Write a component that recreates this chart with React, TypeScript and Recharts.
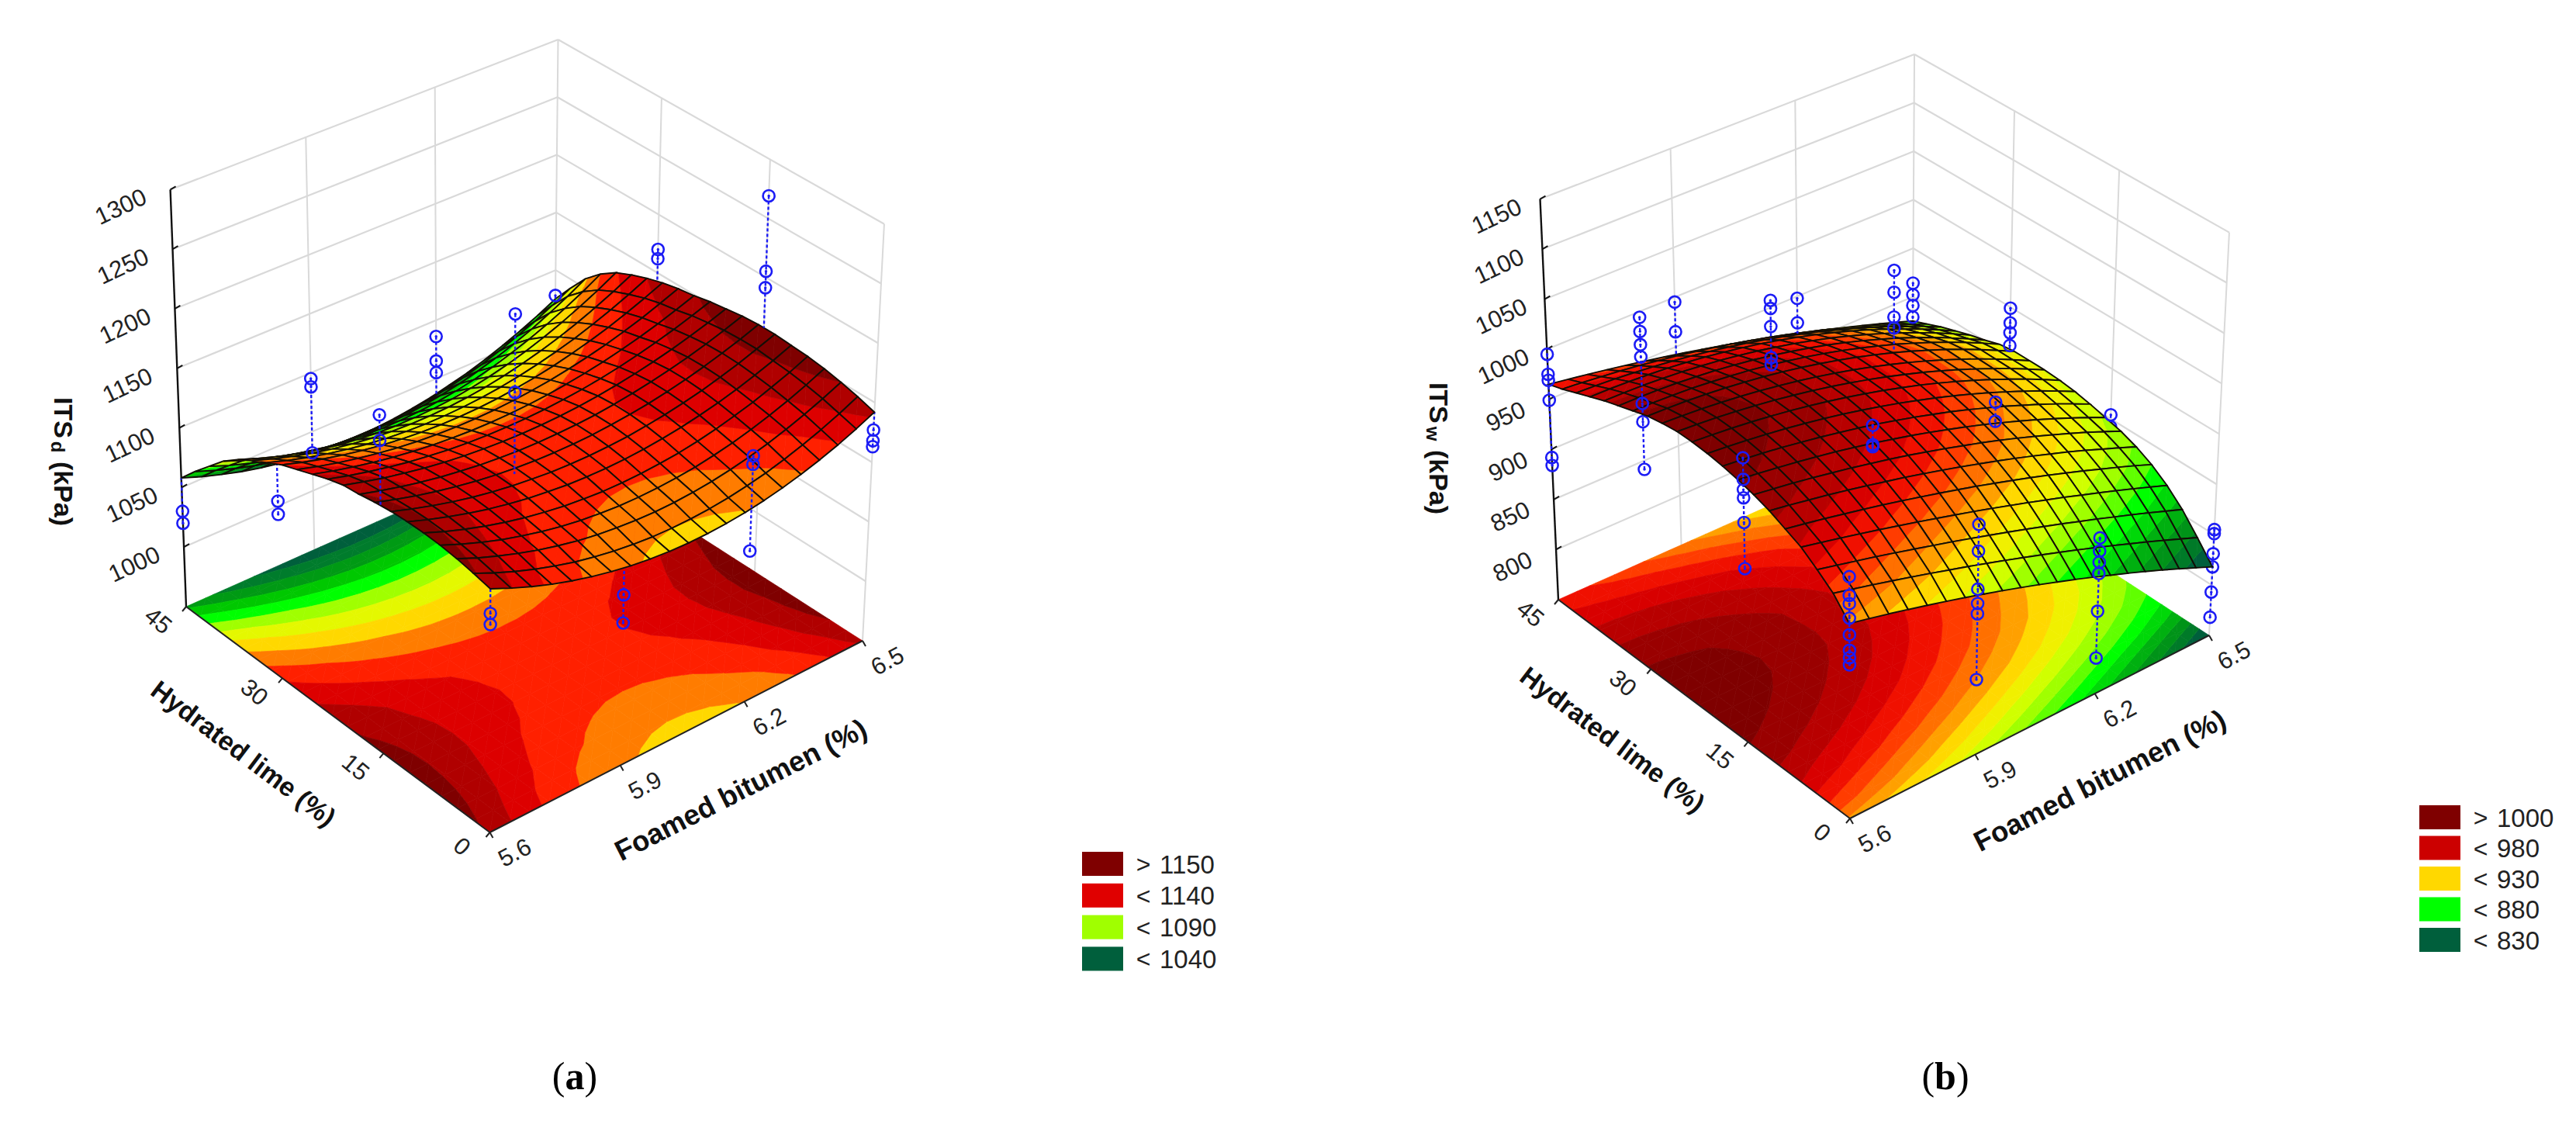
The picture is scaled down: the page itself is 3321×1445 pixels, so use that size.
import React from "react";
import { ScatterChart, Scatter, XAxis, YAxis } from "recharts";

const FOAM_TICKS = [5.6, 5.9, 6.2, 6.5];
const LIME_TICKS = [0, 15, 30, 45];
const ITS_D_TICKS = [1000, 1050, 1100, 1150, 1200, 1250, 1300];
const ITS_W_TICKS = [800, 850, 900, 950, 1000, 1050, 1100, 1150];

// rows: hydrated lime 0..45, columns: foamed bitumen 5.6..6.5
const ITS_D_SURFACE = [
  [1148,1140.5,1133.7,1127.7,1122.5,1118,1114.3,1111.3,1109.1,1107.7,1107,1107.1,1107.9,1109.5,1111.9,1115,1118.9,1123.5,1128.9,1135.1,1142],
  [1151,1143.4,1136.6,1130.5,1125.3,1120.7,1117.1,1114.2,1112,1110.6,1110,1110.2,1111.1,1112.8,1115.3,1118.5,1122.6,1127.4,1133,1139.3,1146.5],
  [1153.5,1146.2,1139.8,1134.1,1129,1124.8,1121.2,1118.5,1116.5,1115.2,1114.6,1114.8,1115.8,1117.5,1119.9,1123.1,1127,1131.7,1137.1,1143.2,1150],
  [1155,1148,1141.7,1136.1,1131.4,1127.2,1123.8,1121.2,1119.3,1118.1,1117.7,1118,1119,1120.6,1123.1,1126.2,1130.1,1134.8,1140.1,1146.2,1153],
  [1155.7,1149,1143.2,1137.9,1133.5,1129.6,1126.5,1124,1122.3,1121.1,1120.8,1121.1,1122.2,1123.7,1126.1,1129.2,1133,1137.3,1142.7,1148.4,1155],
  [1155.6,1149.5,1144.2,1139.4,1135.2,1131.8,1128.9,1126.8,1125.1,1124.2,1123.9,1124.2,1125.2,1126.9,1129.1,1132,1135.4,1139.7,1144.5,1149.9,1156],
  [1154.7,1149.1,1144.1,1139.7,1135.9,1132.7,1130.2,1128.3,1126.7,1126,1125.8,1126.2,1127.1,1128.9,1131.1,1133.9,1137.3,1141.5,1146,1151.4,1157],
  [1153,1147.8,1143.2,1139.2,1135.7,1132.8,1130.4,1128.7,1127.4,1126.8,1126.7,1127.2,1128.3,1129.9,1132,1134.8,1138.1,1142,1146.4,1151.4,1157],
  [1150.6,1145.8,1141.5,1137.8,1134.6,1132,1129.8,1128.2,1127,1126.6,1126.6,1127.1,1128,1129.8,1132,1134.7,1137.9,1141.6,1145.8,1150.7,1156],
  [1149,1144.3,1140,1136.4,1133.2,1130.6,1128.5,1127,1125.9,1125.3,1125.3,1125.8,1126.8,1128.4,1130.5,1133.1,1136.3,1139.9,1144.1,1148.8,1154],
  [1145,1140.3,1136.2,1132.5,1129.4,1126.9,1124.8,1123.3,1122.4,1122,1122,1122.6,1123.8,1125.4,1127.6,1130.4,1133.6,1137.5,1141.8,1146.7,1152],
  [1140,1135.3,1131.2,1127.6,1124.6,1122.1,1120.1,1118.7,1117.8,1117.4,1117.6,1118.3,1119.5,1121.4,1123.7,1126.5,1130,1133.9,1138.4,1143.5,1149],
  [1135,1130.1,1125.8,1122.1,1119,1116.4,1114.4,1113,1112.2,1112,1112.2,1113.1,1114.6,1116.6,1119.2,1122.4,1126.1,1130.5,1135.4,1141,1147],
  [1130,1124.7,1120.1,1116.1,1112.7,1110,1107.8,1106.3,1105.5,1105.2,1105.6,1106.6,1108.3,1110.5,1113.4,1117,1121.1,1125.8,1131.3,1137.4,1144],
  [1123,1117.5,1112.6,1108.5,1105,1102.1,1099.9,1098.5,1097.6,1097.5,1098,1099.2,1101,1103.6,1106.8,1110.6,1115,1120.3,1126.2,1132.7,1140],
  [1116,1110.1,1104.9,1100.4,1096.7,1093.7,1091.4,1089.8,1089,1088.8,1089.4,1090.7,1092.7,1095.5,1099,1103.2,1108.1,1113.7,1120.1,1127.2,1135],
  [1108,1101.7,1096.1,1091.3,1087.3,1084,1081.6,1079.9,1079,1079,1079.6,1081,1083.3,1086.3,1090,1094.6,1099.9,1106,1112.9,1120.5,1129],
  [1098,1091.5,1085.7,1080.8,1076.7,1073.3,1070.8,1069,1068.2,1068.1,1068.8,1070.3,1072.6,1075.7,1079.6,1084.4,1089.9,1096.2,1103.3,1111.2,1120],
  [1085,1078.6,1073.1,1068.3,1064.3,1061.1,1058.7,1057,1056.3,1056.2,1057,1058.5,1060.9,1064,1067.9,1072.6,1078,1084.3,1091.5,1099.3,1108],
  [1072,1065.8,1060.3,1055.6,1051.7,1048.5,1046,1044.4,1043.5,1043.4,1044,1045.4,1047.5,1050.4,1054.1,1058.5,1063.9,1070,1076.3,1083.8,1092],
  [1058,1051.9,1046.6,1041.9,1038,1034.9,1032.4,1030.8,1029.8,1029.5,1030,1031.2,1033.2,1035.8,1039.4,1043.3,1048.2,1053.8,1060.2,1067.2,1075],
];

const ITS_W_SURFACE = [
  [938,933.5,928.9,924,919.1,914,908.7,903.3,897.7,891.9,886,879.9,873.7,867.2,860.6,854,847.1,840.1,832.9,825.5,818],
  [956,951.1,946.1,941,935.7,930.4,924.9,919.4,913.7,907.9,902,896,889.9,883.7,877.3,870.9,864.3,857.7,850.9,844,837],
  [968,963.3,958.5,953.7,948.6,943.5,938.2,933,927.6,922.1,916.5,910.8,905,899.1,893,887,880.7,874.5,868.1,861.5,855],
  [979,974.5,970,965.3,960.5,955.6,950.6,945.5,940.3,935,929.5,923.9,918.3,912.5,906.7,900.6,894.5,888.3,882,875.5,869],
  [986,982.2,978.3,974.1,969.9,965.5,960.9,956.1,951.3,946.2,941,935.6,930.1,924.4,918.5,912.5,906.3,899.9,893.5,886.9,880],
  [993,989.6,985.9,982.2,978.2,973.9,969.5,965,960.2,955.2,950,944.6,939.2,933.5,927.5,921.3,915.2,908.7,901.8,895,888],
  [998,995,992,988.6,984.8,981,976.8,972.6,968,963,958,952.6,947.2,941.4,935.3,929,922.4,915.8,908.8,901.4,894],
  [1002,999.5,996.6,993.6,990.2,986.6,982.6,978.4,973.8,969.1,964,958.6,953,947.2,940.9,934.5,927.8,920.8,913.5,905.9,898],
  [1005,1002.8,1000.4,997.5,994.2,990.9,987,983.1,978.8,974,969,963.7,958.2,952.2,945.8,939.4,932.4,925.4,918,910.1,902],
  [1007,1005.1,1002.9,1000.4,997.5,994.3,990.7,986.8,982.5,977.9,973,967.7,962.1,956.2,949.9,943.3,936.3,929,921.5,913.4,905],
  [1008,1006.4,1004.6,1002.3,999.6,996.6,993.2,989.5,985.4,980.8,976,970.7,965.2,959.2,952.8,946.1,939,931.6,923.8,915.5,907],
  [1008,1006.6,1004.9,1002.7,1000.1,997.3,993.9,990.3,986.3,981.8,977,971.8,966.2,960.3,953.9,947.3,940.1,932.7,924.9,916.6,908],
  [1006,1004.9,1003.4,1001.5,999.2,996.5,993.4,989.9,986,981.7,977,971.9,966.4,960.5,954.2,947.5,940.4,933,925,916.7,908],
  [1003,1002.3,1001.2,999.7,997.8,995.3,992.6,989.3,985.6,981.5,977,972.1,966.6,960.9,954.6,947.8,940.8,933.2,925.2,916.8,908],
  [998,997.6,996.7,995.5,993.7,991.5,988.9,985.9,982.3,978.4,974,969.2,963.9,958.2,952.1,945.5,938.5,931.1,923.1,914.8,906],
  [993,992.8,992.1,991,989.3,987.3,984.7,981.8,978.3,974.4,970,965.2,959.9,954.1,947.9,941.3,934.1,926.6,918.5,910,901],
  [988,987.7,987,985.8,984.2,982.1,979.6,976.6,973.2,969.3,965,960.2,955,949.3,943.2,936.6,929.6,922.1,914.2,905.8,897],
  [982,981.7,980.9,979.7,978.1,976,973.5,970.5,967.1,963.3,959,954.3,949.1,943.5,937.5,931,924,916.7,909,900.7,892],
  [976,975.1,973.8,972.1,970,967.6,964.9,961.7,958.2,954.3,950,945.4,940.4,935,929.2,923.1,916.6,909.8,902.6,895,887],
  [970,968.3,966.3,964,961.5,958.6,955.5,952,948.3,944.3,940,935.4,930.5,925.3,919.9,914.1,908.1,901.8,895.1,888.2,881],
  [965,962,958.9,955.6,952.1,948.5,944.7,940.8,936.7,932.4,928,923.4,918.7,913.8,908.7,903.5,898.1,892.6,886.9,881,875],
];

// measured values: [foamed bitumen, hydrated lime, ITS values]
const ITS_D_POINTS: [number, number, number[]][] = [
  [6.5, 0, [1127, 1118, 1113]],
  [6.5, 15, [1269, 1205, 1191]],
  [6.5, 30, [1170, 1162]],
  [6.5, 45, [1078]],
  [6.2, 0, [1154, 1147, 1075]],
  [6.2, 45, [1086, 1065, 1055]],
  [5.9, 0, [1090, 1067]],
  [5.9, 15, [1262, 1197]],
  [5.9, 45, [1095, 1088, 1032]],
  [5.6, 0, [1128, 1119]],
  [5.6, 15, [1228, 1207]],
  [5.6, 30, [1097, 1086]],
  [5.6, 45, [1030, 1020]],
];
const ITS_W_POINTS: [number, number, number[]][] = [
  [5.6, 0, [983, 965, 957, 943, 927, 912, 905, 898]],
  [5.9, 0, [974, 948, 911, 897, 887, 823]],
  [6.2, 0, [903, 890, 879, 868, 831, 785]],
  [6.5, 0, [855, 851, 831, 818, 793, 768]],
  [5.6, 15, [1027, 1006, 996, 988, 964, 919]],
  [5.6, 30, [1097, 1083, 1070, 1058, 1012, 994, 947]],
  [5.6, 45, [995, 975, 969, 949, 892, 884]],
  [5.9, 45, [995, 965]],
  [5.9, 30, [1060, 1052, 1034, 1003, 996, 989, 984]],
  [6.2, 45, [948, 923, 907]],
  [6.2, 30, [1038, 1016, 991, 980, 948]],
  [6.5, 45, [914, 902, 891, 879]],
  [6.5, 30, [949, 934, 924, 911]],
  [6.2, 15, [970, 951, 940]],
  [5.9, 15, [1002, 983, 981]],
  [6.5, 15, [904, 892]],
];

const BAND_LIMITS_D = [1040, 1050, 1060, 1070, 1080, 1090, 1100, 1110, 1120, 1130, 1140, 1150];
const BAND_COLORS_D = ["#005f3c", "#007c2c", "#009a14", "#00c800", "#00ff00", "#a0ff00", "#e4f800", "#ffd800", "#ff7c00", "#ff2000", "#dd0000", "#b00000", "#7f0000"];
const BAND_LIMITS_W = [830, 840, 850, 860, 870, 880, 890, 900, 910, 920, 930, 940, 950, 960, 970, 980, 990, 1000];
const BAND_COLORS_W = ["#005f3c", "#007a28", "#009318", "#00b010", "#00d808", "#00ff00", "#60ff00", "#a0ff00", "#d0ff00", "#f0f000", "#ffd800", "#ffa000", "#ff7000", "#ff3c00", "#f01000", "#d80000", "#b80000", "#9a0000", "#7f0000"];

const LEGEND_D_LABELS = ["1150", "1140", "1090", "1040"];
const LEGEND_D_SIGNS = [">", "<", "<", "<"];
const LEGEND_D_COLORS = ["#7f0000", "#e00000", "#a0ff00", "#005f3c"];
const LEGEND_W_LABELS = ["1000", "980", "930", "880", "830"];
const LEGEND_W_SIGNS = [">", "<", "<", "<", "<"];
const LEGEND_W_COLORS = ["#7f0000", "#cc0000", "#ffd800", "#00ff00", "#005f3c"];

const W = 3321;
const H = 1445;
const SANS = "'Liberation Sans', Arial, sans-serif";

type Geo = {
  F: number[]; R: number[]; L: number[]; B: number[];
  hF: number; hR: number; hL: number; hB: number;
  vp: number[]; zMin: number; zMax: number;
};
const GEO_D: Geo = { F: [631.5, 1073], R: [1112, 826], L: [240, 782], B: [714, 571], hF: 555, hR: 538, hL: 538, hB: 520, vp: [609, 10500], zMin: 950, zMax: 1300 };
const GEO_W: Geo = { F: [2385, 1055], R: [2848, 819], L: [2009, 773], B: [2465, 570], hF: 535, hR: 520, hL: 517, hB: 500, vp: [2410, 9583], zMin: 750, zMax: 1150 };

function projector(g: Geo) {
  const { F, R, L, B } = g;
  const dx1 = R[0] - B[0], dy1 = R[1] - B[1], dx2 = L[0] - B[0], dy2 = L[1] - B[1];
  const sx = F[0] - R[0] + B[0] - L[0], sy = F[1] - R[1] + B[1] - L[1];
  const det = dx1 * dy2 - dx2 * dy1;
  const gg = (sx * dy2 - dx2 * sy) / det;
  const hh = (dx1 * sy - sx * dy1) / det;
  return (u: number, v: number, z: number): [number, number] => {
    const den = 1 + gg * u + hh * v;
    const fx = ((R[0] - F[0] + gg * R[0]) * u + (L[0] - F[0] + hh * L[0]) * v + F[0]) / den;
    const fy = ((R[1] - F[1] + gg * R[1]) * u + (L[1] - F[1] + hh * L[1]) * v + F[1]) / den;
    const hgt = g.hF * (1 - u) * (1 - v) + g.hR * u * (1 - v) + g.hL * (1 - u) * v + g.hB * u * v;
    const t = ((z - g.zMin) / (g.zMax - g.zMin)) * hgt;
    const ax = g.vp[0] - fx, ay = g.vp[1] - fy;
    const n = Math.hypot(ax, ay);
    return [fx - (ax / n) * t, fy - (ay / n) * t];
  };
}

type N = { u: number; v: number; z: number };
function clip(poly: N[], level: number, keepAbove: boolean): N[] {
  const out: N[] = [];
  for (let i = 0; i < poly.length; i++) {
    const a = poly[i], b = poly[(i + 1) % poly.length];
    const ina = keepAbove ? a.z >= level : a.z <= level;
    const inb = keepAbove ? b.z >= level : b.z <= level;
    if (ina) out.push(a);
    if (ina !== inb) {
      const t = (level - a.z) / (b.z - a.z);
      out.push({ u: a.u + (b.u - a.u) * t, v: a.v + (b.v - a.v) * t, z: level });
    }
  }
  return out;
}

function bandPieces(tri: N[], limits: number[], colors: string[]) {
  const pieces: { color: string; poly: N[] }[] = [];
  for (let k = 0; k < colors.length; k++) {
    let p = tri;
    if (k > 0) p = clip(p, limits[k - 1], true);
    if (p.length && k < limits.length) p = clip(p, limits[k], false);
    if (p.length >= 3) pieces.push({ color: colors[k], poly: p });
  }
  return pieces;
}

function buildCells(table: number[][], limits: number[], colors: string[], g: Geo) {
  const proj = projector(g);
  const n = table.length - 1;
  const floor: any[] = [];
  const surf: any[] = [];
  const order: [number, number][] = [];
  for (let j = 0; j < n; j++) for (let i = 0; i < n; i++) order.push([i, j]);
  order.sort((a, b) => b[0] + b[1] - (a[0] + a[1]));
  for (const [i, j] of order) {
    const nd = (ii: number, jj: number): N => ({ u: ii / n, v: jj / n, z: table[jj][ii] });
    const a = nd(i, j), b = nd(i + 1, j), c = nd(i + 1, j + 1), d = nd(i, j + 1);
    const pieces = [...bandPieces([a, b, c], limits, colors), ...bandPieces([a, c, d], limits, colors)];
    const str = (poly: N[], flat: boolean) => poly.map((q) => proj(q.u, q.v, flat ? g.zMin : q.z).map((w) => w.toFixed(1)).join(",")).join(" ");
    const fc = proj((i + 0.5) / n, (j + 0.5) / n, g.zMin);
    floor.push({ x: fc[0], y: fc[1], pieces: pieces.map((p) => ({ color: p.color, pts: str(p.poly, true) })) });
    const mz = (a.z + b.z + c.z + d.z) / 4;
    const sc = proj((i + 0.5) / n, (j + 0.5) / n, mz);
    surf.push({ x: sc[0], y: sc[1], pieces: pieces.map((p) => ({ color: p.color, pts: str(p.poly, false) })), outline: str([a, b, c, d], false) });
  }
  return { floor, surf };
}

function sampleSurface(table: number[][], u: number, v: number) {
  const n = table.length - 1;
  const fi = Math.min(u * n, n - 1e-6), fj = Math.min(v * n, n - 1e-6);
  const i = Math.floor(fi), j = Math.floor(fj);
  const s = fi - i, t = fj - j;
  return table[j][i] * (1 - s) * (1 - t) + table[j][i + 1] * s * (1 - t) + table[j + 1][i] * (1 - s) * t + table[j + 1][i + 1] * s * t;
}

function buildColumns(pointsIn: [number, number, number[]][], table: number[][], g: Geo) {
  const proj = projector(g);
  const lowSegs: any[] = [], lowPts: any[] = [], highSegs: any[] = [], highPts: any[] = [];
  for (const [foam, lime, vals] of pointsIn) {
    const u = (foam - 5.6) / 0.9, v = lime / 45;
    const s = sampleSurface(table, u, v);
    const [sx, sy] = proj(u, v, s);
    const hi = Math.max(...vals), lo = Math.min(...vals);
    const dash = "4 3";
    if (hi > s) {
      const [x, y] = proj(u, v, hi);
      highSegs.push({ x, y, x2: sx, y2: sy, stroke: "#1c1cf5", sw: 2.4, dash });
    }
    if (lo < s) {
      const [x, y] = proj(u, v, lo);
      lowSegs.push({ x, y, x2: sx, y2: sy, stroke: "#1c1cf5", sw: 2.4, dash });
    }
    for (const val of vals) {
      const [x, y] = proj(u, v, val);
      (val >= s ? highPts : lowPts).push({ x, y });
    }
  }
  return { lowSegs, lowPts, highSegs, highPts };
}

function buildFrame(g: Geo, zTicks: number[]) {
  const proj = projector(g);
  const grid: any[] = [];
  const axes: any[] = [];
  const GREY = "#d9d9d9";
  const seg = (arr: any[], a: number[], b: number[], stroke: string, sw: number) => arr.push({ x: a[0], y: a[1], x2: b[0], y2: b[1], stroke, sw });
  for (const z of zTicks) {
    const back = proj(1, 1, z);
    seg(grid, proj(0, 1, z), back, GREY, 2.2);
    seg(grid, back, proj(1, 0, z), GREY, 2.2);
  }
  for (const f of FOAM_TICKS.slice(1)) {
    const u = (f - 5.6) / 0.9;
    seg(grid, proj(u, 1, g.zMin), proj(u, 1, g.zMax), GREY, 2);
  }
  for (const l of LIME_TICKS.slice(0, 3)) {
    const v = l / 45;
    seg(grid, proj(1, v, g.zMin), proj(1, v, g.zMax), GREY, 2);
  }
  seg(axes, proj(0, 1, g.zMin), proj(0, 1, g.zMax), "#111", 2.4);
  for (const z of zTicks) {
    const a = proj(0, 1, z);
    seg(axes, a, [a[0] + 7, a[1] - 4], "#111", 2);
  }
  seg(axes, proj(0, 1, g.zMin), proj(0, 0, g.zMin), "#222", 2);
  seg(axes, proj(0, 0, g.zMin), proj(1, 0, g.zMin), "#222", 2);
  for (const f of FOAM_TICKS) {
    const a = proj((f - 5.6) / 0.9, 0, g.zMin);
    seg(axes, a, [a[0] + 4, a[1] + 7], "#222", 2);
  }
  for (const l of LIME_TICKS) {
    const a = proj(0, l / 45, g.zMin);
    seg(axes, a, [a[0] - 5, a[1] + 6], "#222", 2);
  }
  return { grid, axes };
}

function buildLabels(g: Geo, zTicks: number[], zOff: number[], limeOff: number[], foamOff: number[]) {
  const proj = projector(g);
  const out: any[] = [];
  for (const z of zTicks) {
    const a = proj(0, 1, z);
    out.push({ x: a[0] + zOff[0], y: a[1] + zOff[1], text: String(z), rot: -25, size: 31, color: "#222" });
  }
  for (const l of LIME_TICKS) {
    const a = proj(0, l / 45, g.zMin);
    out.push({ x: a[0] + limeOff[0], y: a[1] + limeOff[1], text: String(l), rot: 40, size: 31, color: "#222" });
  }
  for (const f of FOAM_TICKS) {
    const a = proj((f - 5.6) / 0.9, 0, g.zMin);
    out.push({ x: a[0] + foamOff[0], y: a[1] + foamOff[1], text: f.toFixed(1), rot: -28, size: 31, color: "#222" });
  }
  return out;
}

function legendData(labels: string[], signs: string[], colors: string[], x: number, y: number, step: number) {
  const sw = labels.map((_, i) => ({ x: x, y: y + i * step, w: 53, h: 31, color: colors[i] }));
  const tx = labels.flatMap((t, i) => [
    { x: x + 79, y: y + i * step + 16, text: signs[i], rot: 0, size: 32, color: "#222", anchor: "middle" },
    { x: x + 100, y: y + i * step + 16, text: t, rot: 0, size: 33, color: "#222", anchor: "start" },
  ]);
  return { sw, tx };
}

const CellsFloor = (p: any) => {
  const d = p.payload;
  return (
    <g transform={`translate(${p.cx - d.x},${p.cy - d.y})`}>
      {d.pieces.map((q: any, i: number) => (
        <polygon key={i} points={q.pts} fill={q.color} stroke={q.color} strokeWidth={0.7} />
      ))}
    </g>
  );
};
const CellsSurf = (p: any) => {
  const d = p.payload;
  return (
    <g transform={`translate(${p.cx - d.x},${p.cy - d.y})`}>
      {d.pieces.map((q: any, i: number) => (
        <polygon key={i} points={q.pts} fill={q.color} stroke={q.color} strokeWidth={0.7} />
      ))}
      <polygon points={d.outline} fill="none" stroke="#120e06" strokeWidth={1.9} />
    </g>
  );
};
const SegShape = (p: any) => {
  const d = p.payload;
  const dx = p.cx - d.x, dy = p.cy - d.y;
  return <line x1={p.cx} y1={p.cy} x2={d.x2 + dx} y2={d.y2 + dy} stroke={d.stroke} strokeWidth={d.sw} strokeDasharray={d.dash} />;
};
const Marker = (p: any) => (
  <g>
    <circle cx={p.cx} cy={p.cy} r={7.5} fill="none" stroke="#1c1cf5" strokeWidth={2.6} />
    <circle cx={p.cx} cy={p.cy} r={1.7} fill="#1c1cf5" />
  </g>
);
const TextShape = (p: any) => {
  const d = p.payload;
  return (
    <text x={p.cx} y={p.cy} textAnchor={d.anchor || "middle"} dominantBaseline="central" transform={`rotate(${d.rot || 0} ${p.cx} ${p.cy})`} fontFamily={SANS} fontSize={d.size} fontWeight={d.weight || 400} fill={d.color || "#111"}>
      {d.text}
    </text>
  );
};
const SubTitle = (p: any) => {
  const d = p.payload;
  return (
    <text x={p.cx} y={p.cy} textAnchor="middle" dominantBaseline="central" transform={`rotate(90 ${p.cx} ${p.cy})`} fontFamily={SANS} fontSize={34} fontWeight={700} fill="#111">
      ITS
      <tspan dx={4} dy={7} fontSize={24}>{d.sub}</tspan>
      <tspan dx={2} dy={-7}> (kPa)</tspan>
    </text>
  );
};
const Swatch = (p: any) => {
  const d = p.payload;
  return <rect x={p.cx} y={p.cy} width={d.w} height={d.h} fill={d.color} />;
};
const Caption = (p: any) => {
  const d = p.payload;
  return (
    <text x={p.cx} y={p.cy} textAnchor="middle" fontFamily="'Liberation Serif', serif" fontSize={50} fill="#000">
      (<tspan fontWeight={700}>{d.text}</tspan>)
    </text>
  );
};

const PANELS = [
  {
    g: GEO_D, table: ITS_D_SURFACE, limits: BAND_LIMITS_D, colors: BAND_COLORS_D, pts: ITS_D_POINTS, ticks: ITS_D_TICKS,
    zOff: [-64, 22], limeOff: [-36, 18], foamOff: [32, 26],
  },
  {
    g: GEO_W, table: ITS_W_SURFACE, limits: BAND_LIMITS_W, colors: BAND_COLORS_W, pts: ITS_W_POINTS, ticks: ITS_W_TICKS,
    zOff: [-56, 22], limeOff: [-36, 18], foamOff: [32, 26],
  },
];

const TITLES = [
  { x: 314, y: 971, text: "Hydrated lime (%)", rot: 37, size: 34, weight: 700, color: "#111" },
  { x: 955, y: 1018, text: "Foamed bitumen (%)", rot: -27, size: 36.5, weight: 700, color: "#111" },
  { x: 2079, y: 953, text: "Hydrated lime (%)", rot: 37, size: 34, weight: 700, color: "#111" },
  { x: 2707, y: 1006, text: "Foamed bitumen (%)", rot: -27, size: 36.5, weight: 700, color: "#111" },
];
const SUBTITLES = [
  { x: 82, y: 595, sub: "d" },
  { x: 1855, y: 578, sub: "w" },
];
const CAPTIONS = [
  { x: 741, y: 1404, text: "a" },
  { x: 2508, y: 1404, text: "b" },
];

const LEG_D = legendData(LEGEND_D_LABELS, LEGEND_D_SIGNS, LEGEND_D_COLORS, 1395, 1098, 40.8);
const LEG_W = legendData(LEGEND_W_LABELS, LEGEND_W_SIGNS, LEGEND_W_COLORS, 3119, 1038, 39.5);

const LAYERS = PANELS.map((p) => ({
  cells: buildCells(p.table, p.limits, p.colors, p.g),
  cols: buildColumns(p.pts, p.table, p.g),
  frame: buildFrame(p.g, p.ticks),
  labels: buildLabels(p.g, p.ticks, p.zOff, p.limeOff, p.foamOff),
}));

export default function App() {
  const series: React.ReactNode[] = [];
  LAYERS.forEach((l, i) => {
    series.push(
      <Scatter key={`grid${i}`} data={l.frame.grid} shape={SegShape} isAnimationActive={false} />,
      <Scatter key={`floor${i}`} data={l.cells.floor} shape={CellsFloor} isAnimationActive={false} />,
      <Scatter key={`axes${i}`} data={l.frame.axes} shape={SegShape} isAnimationActive={false} />,
      <Scatter key={`lowS${i}`} data={l.cols.lowSegs} shape={SegShape} isAnimationActive={false} />,
      <Scatter key={`lowP${i}`} data={l.cols.lowPts} shape={Marker} isAnimationActive={false} />,
      <Scatter key={`surf${i}`} data={l.cells.surf} shape={CellsSurf} isAnimationActive={false} />,
      <Scatter key={`highS${i}`} data={l.cols.highSegs} shape={SegShape} isAnimationActive={false} />,
      <Scatter key={`highP${i}`} data={l.cols.highPts} shape={Marker} isAnimationActive={false} />,
      <Scatter key={`lab${i}`} data={l.labels} shape={TextShape} isAnimationActive={false} />
    );
  });
  return (
    <div style={{ position: "absolute", left: 0, top: 0, width: W, height: H, overflow: "hidden", background: "#fff" }}>
      <ScatterChart width={W} height={H} margin={{ top: 0, right: 0, bottom: 0, left: 0 }}>
        <XAxis type="number" dataKey="x" domain={[0, W]} hide />
        <YAxis type="number" dataKey="y" domain={[0, H]} reversed hide />
        {series}
        <Scatter data={TITLES} shape={TextShape} isAnimationActive={false} />
        <Scatter data={SUBTITLES} shape={SubTitle} isAnimationActive={false} />
        <Scatter data={CAPTIONS} shape={Caption} isAnimationActive={false} />
        <Scatter data={LEG_D.sw} shape={Swatch} isAnimationActive={false} />
        <Scatter data={LEG_D.tx} shape={TextShape} isAnimationActive={false} />
        <Scatter data={LEG_W.sw} shape={Swatch} isAnimationActive={false} />
        <Scatter data={LEG_W.tx} shape={TextShape} isAnimationActive={false} />
      </ScatterChart>
    </div>
  );
}
